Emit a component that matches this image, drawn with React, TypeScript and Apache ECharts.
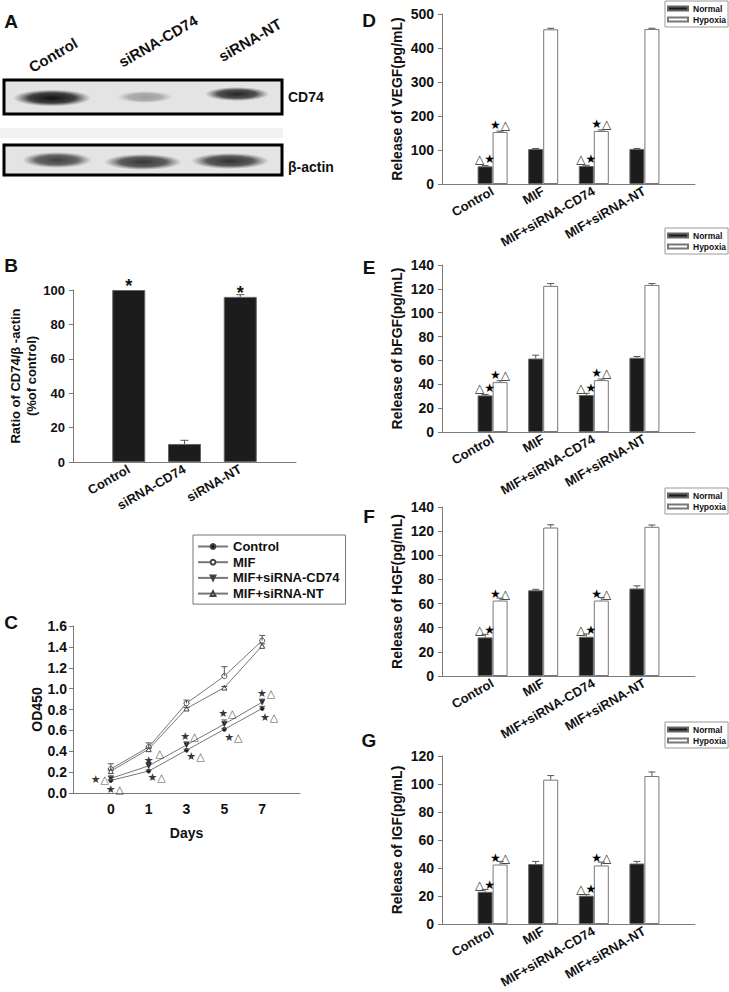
import React, { useEffect, useRef } from 'react';
import * as echarts from 'echarts';

const FONT = '"Liberation Sans", Arial, Helvetica, sans-serif';
const SYM = '"DejaVu Sans", "Liberation Sans", sans-serif';

// ---------- Panel A (western blot) ----------
const blotLanes = ['Control', 'siRNA-CD74', 'siRNA-NT'];
const cd74Density = [0.97, 0.32, 0.88];
const actinDensity = [0.75, 0.8, 0.82];

// ---------- Panel B ----------
const bCategories = ['Control', 'siRNA-CD74', 'siRNA-NT'];
const bValues = [100, 10.5, 96];
const bErrors = [0, 2.1, 1.3];
const bMarks = ['*', '', '*'];

// ---------- Panel C ----------
const cDays = ['0', '1', '3', '5', '7'];
const cNames = ['Control', 'MIF', 'MIF+siRNA-CD74', 'MIF+siRNA-NT'];
const cControl = [0.12, 0.21, 0.41, 0.61, 0.81];
const cControlErr = [0.01, 0.01, 0.01, 0.01, 0.02];
const cMIF = [0.23, 0.44, 0.86, 1.12, 1.46];
const cMIFErr = [0.05, 0.04, 0.03, 0.09, 0.05];
const cCD74 = [0.14, 0.26, 0.46, 0.66, 0.87];
const cCD74Err = [0.02, 0.03, 0.03, 0.04, 0.03];
const cNT = [0.21, 0.42, 0.81, 1.01, 1.41];
const cNTErr = [0.01, 0.01, 0.01, 0.01, 0.02];
// significance marks: [day index, value, text]
const cMarks: [number, number, string][] = [
  [0, 0.134, '★△'], [0, 0.029, '★△'],
  [1, 0.307, '★'], [1, 0.374, '△'], [1, 0.144, '★△'],
  [2, 0.537, '★△'], [2, 0.345, '★△'],
  [3, 0.757, '★△'], [3, 0.527, '★△'],
  [4, 0.949, '★△'], [4, 0.728, '★△'],
];
const cMarkDx = [-11, 4, 0, 11, 8, 3, 9, 3, 9, 4, 7];

// ---------- Panels D-G ----------
const groups = ['Control', 'MIF', 'MIF+siRNA-CD74', 'MIF+siRNA-NT'];
const vegfNormal = [52, 103, 53, 103];
const vegfNormalErr = [2, 1.5, 2, 1.5];
const vegfHypoxia = [153, 455, 156, 456];
const vegfHypoxiaErr = [2.5, 3, 3, 2];
const bfgfNormal = [30.7, 61.6, 31, 62.2];
const bfgfNormalErr = [0.8, 2.8, 1.4, 1.1];
const bfgfHypoxia = [41.8, 122.5, 43.5, 123.3];
const bfgfHypoxiaErr = [1.2, 1.9, 0.9, 1.1];
const hgfNormal = [32, 71, 32.5, 72.5];
const hgfNormalErr = [2.5, 0.8, 2.3, 2.2];
const hgfHypoxia = [62.5, 123, 62.5, 123.6];
const hgfHypoxiaErr = [2, 2.3, 2.5, 1.5];
const igfNormal = [23, 42.8, 20.2, 43.2];
const igfNormalErr = [1.7, 1.9, 0.9, 1.5];
const igfHypoxia = [42.5, 103.1, 41.8, 105.7];
const igfHypoxiaErr = [2.2, 2.9, 2.4, 2.9];
const normalMarks = ['△★', '', '△★', ''];
const hypoxiaMarks = ['★△', '', '★△', ''];

const richMark = (m: string) =>
  m.split('').map((ch) => (ch === '★' ? `{s|★}` : ch === '△' ? `{t|△}` : `{a|${ch}}`)).join('');

const richStyles = (size: number) => ({
  s: { fontFamily: SYM, fontSize: size, fontWeight: 'bold', color: '#000' },
  t: { fontFamily: SYM, fontSize: size, color: '#222' },
  a: { fontFamily: FONT, fontSize: size + 5, fontWeight: 'bold', color: '#111' },
});

const AXIS_COLOR = '#7a7a7a';

function errorSeries(xi: number, vals: number[], errs: number[], dx: number, cap: number) {
  return {
    type: 'custom',
    xAxisIndex: xi,
    yAxisIndex: xi,
    silent: true,
    z: 6,
    data: vals.map((v, i) => [i + 1, v, v + errs[i]]),
    renderItem: (_p: any, api: any) => {
      if (api.value(2) <= api.value(1)) return null;
      const base = api.coord([api.value(0), api.value(1)]);
      const top = api.coord([api.value(0), api.value(2)]);
      const x = base[0] + dx;
      const st = { stroke: '#555', lineWidth: 1 };
      return {
        type: 'group',
        children: [
          { type: 'line', shape: { x1: x, y1: base[1], x2: x, y2: top[1] }, style: st },
          { type: 'line', shape: { x1: x - cap, y1: top[1], x2: x + cap, y2: top[1] }, style: st },
        ],
      };
    },
  };
}

const rightPanels = [
  { title: 'Release of VEGF(pg/mL)', normal: vegfNormal, nErr: vegfNormalErr, hyp: vegfHypoxia, hErr: vegfHypoxiaErr, max: 500, interval: 100, top: 14, height: 170, legendTop: 1, letter: 'D', letterY: 20 },
  { title: 'Release of bFGF(pg/mL)', normal: bfgfNormal, nErr: bfgfNormalErr, hyp: bfgfHypoxia, hErr: bfgfHypoxiaErr, max: 140, interval: 20, top: 265, height: 167, legendTop: 228, letter: 'E', letterY: 267 },
  { title: 'Release of HGF(pg/mL)', normal: hgfNormal, nErr: hgfNormalErr, hyp: hgfHypoxia, hErr: hgfHypoxiaErr, max: 140, interval: 20, top: 507, height: 169, legendTop: 488, letter: 'F', letterY: 516 },
  { title: 'Release of IGF(pg/mL)', normal: igfNormal, nErr: igfNormalErr, hyp: igfHypoxia, hErr: igfHypoxiaErr, max: 120, interval: 20, top: 756, height: 168, legendTop: 722, letter: 'G', letterY: 740 },
];

function yAxisBase(gridIndex: number) {
  return {
    type: 'value',
    gridIndex,
    min: 0,
    axisLine: { show: true, lineStyle: { color: AXIS_COLOR, width: 1 } },
    axisTick: { show: true, length: 4, lineStyle: { color: AXIS_COLOR } },
    splitLine: { show: false },
    axisLabel: { fontFamily: FONT, fontWeight: 'bold', fontSize: 14, color: '#111', margin: 8 },
    nameLocation: 'middle',
    nameRotate: 90,
    nameTextStyle: { fontFamily: FONT, fontWeight: 'bold', fontSize: 14, color: '#111' },
  };
}

function xAxisCat(gridIndex: number, cats: string[], fontSize: number, rotate: number, margin: number) {
  return {
    type: 'category',
    gridIndex,
    data: ['', ...cats, ' '],
    boundaryGap: false,
    axisLine: { show: true, lineStyle: { color: AXIS_COLOR, width: 1 } },
    axisTick: { show: false },
    splitLine: { show: false },
    axisLabel: { interval: 0, rotate, margin, fontFamily: FONT, fontWeight: 'bold', fontSize, color: '#111' },
  };
}

function blotGraphics() {
  const els: any[] = [];
  const band = (cx: number, cy: number, rx: number, ry: number, d: number) => ({
    type: 'ellipse',
    shape: { cx, cy, rx, ry },
    style: {
      fill: {
        type: 'radial', x: 0.5, y: 0.5, r: 0.5,
        colorStops: [
          { offset: 0, color: `rgba(10,10,10,${d})` },
          { offset: 0.6, color: `rgba(30,30,30,${d * 0.85})` },
          { offset: 1, color: 'rgba(70,70,70,0)' },
        ],
      },
    },
  });
  els.push({ type: 'rect', shape: { x: 0, y: 128, width: 283, height: 10 }, style: { fill: '#f2f2f2' } });
  els.push({ type: 'rect', shape: { x: 4, y: 80, width: 278, height: 34 }, style: { fill: '#e4e4e4', stroke: '#000', lineWidth: 3 } });
  els.push({ type: 'rect', shape: { x: 4, y: 145, width: 278, height: 30 }, style: { fill: '#e4e4e4', stroke: '#000', lineWidth: 3 } });
  const topBands = [[52, 98, 39, 8.5], [145, 97, 28, 6], [237, 94, 32, 7]];
  const botBands = [[57, 160, 35, 8], [143, 162, 39, 8], [230, 161, 39, 8]];
  topBands.forEach((b, i) => els.push(band(b[0], b[1], b[2], b[3], cd74Density[i])));
  botBands.forEach((b, i) => els.push(band(b[0], b[1], b[2], b[3], actinDensity[i])));
  const labelPos = [[53, 55], [158, 41], [250, 40]];
  blotLanes.forEach((t, i) => els.push({
    type: 'text', x: labelPos[i][0], y: labelPos[i][1], rotation: Math.PI / 6,
    style: { text: t, fontFamily: FONT, fontWeight: 'bold', fontSize: 15, fill: '#111', align: 'center', verticalAlign: 'middle', textAlign: 'center', textVerticalAlign: 'middle' },
  }));
  els.push({ type: 'text', x: 288, y: 97, style: { text: 'CD74', fontFamily: FONT, fontWeight: 'bold', fontSize: 14, fill: '#111', align: 'left', verticalAlign: 'middle', textAlign: 'left', textVerticalAlign: 'middle' } });
  els.push({ type: 'text', x: 288, y: 167, style: { text: 'β-actin', fontFamily: FONT, fontWeight: 'bold', fontSize: 14, fill: '#111', align: 'left', verticalAlign: 'middle', textAlign: 'left', textVerticalAlign: 'middle' } });
  return els;
}

function letterGraphics() {
  const letters: [string, number, number][] = [
    ['A', 11, 21], ['B', 11, 265], ['C', 11, 622],
    ...rightPanels.map((p) => [p.letter, 369, p.letterY] as [string, number, number]),
  ];
  return letters.map(([t, x, y]) => ({
    type: 'text', x, y,
    style: { text: t, fontFamily: FONT, fontWeight: 'bold', fontSize: 19, fill: '#111', align: 'center', verticalAlign: 'middle', textAlign: 'center', textVerticalAlign: 'middle' },
  }));
}

function buildOption() {
  const grid: any[] = [
    { left: 73, top: 290, width: 223, height: 172 },
    { left: 73, top: 626, width: 227, height: 167 },
    ...rightPanels.map((p) => ({ left: 442, top: p.top, width: 253, height: p.height })),
  ];

  const xAxis: any[] = [
    xAxisCat(0, bCategories, 13, 30, 6),
    {
      ...xAxisCat(1, cDays, 14, 0, 9),
      name: 'Days', nameLocation: 'middle', nameGap: 33,
      nameTextStyle: { fontFamily: FONT, fontWeight: 'bold', fontSize: 14, color: '#111' },
    },
    ...rightPanels.map((_, i) => xAxisCat(i + 2, groups, 13, 30, 6)),
  ];

  const yAxis: any[] = [
    {
      ...yAxisBase(0), max: 100, interval: 20,
      axisLabel: { fontFamily: FONT, fontWeight: 'bold', fontSize: 13, color: '#111', margin: 8 },
      name: 'Ratio of CD74/β -actin\n(%of control)', nameGap: 34,
      nameTextStyle: { fontFamily: FONT, fontWeight: 'bold', fontSize: 13, color: '#111', lineHeight: 16 },
    },
    {
      ...yAxisBase(1), max: 1.6, interval: 0.2,
      axisLabel: { fontFamily: FONT, fontWeight: 'bold', fontSize: 14, color: '#111', margin: 6, formatter: (v: number) => v.toFixed(1) },
      name: 'OD450', nameGap: 29,
    },
    ...rightPanels.map((p, i) => ({
      ...yAxisBase(i + 2), max: p.max, interval: p.interval, name: p.title, nameGap: 38,
    })),
  ];

  const series: any[] = [];

  // Panel B
  series.push({
    type: 'bar', name: 'CD74 ratio', xAxisIndex: 0, yAxisIndex: 0, barWidth: 33,
    itemStyle: { color: '#1c1c1c', borderColor: '#666', borderWidth: 1 },
    data: bValues.map((v, i) => ({
      value: [i + 1, v],
      label: { show: !!bMarks[i], position: 'top', distance: -5, formatter: bMarks[i], fontFamily: FONT, fontWeight: 'bold', fontSize: 18, color: '#111' },
    })),
  });
  series.push(errorSeries(0, bValues, bErrors, 0, 4));

  // Panel C
  const cSets = [
    { name: cNames[0], vals: cControl, errs: cControlErr, symbol: 'circle', size: 4, fill: '#111', rot: 0 },
    { name: cNames[1], vals: cMIF, errs: cMIFErr, symbol: 'circle', size: 5, fill: '#fff', rot: 0 },
    { name: cNames[2], vals: cCD74, errs: cCD74Err, symbol: 'triangle', size: 5, fill: '#111', rot: 180 },
    { name: cNames[3], vals: cNT, errs: cNTErr, symbol: 'triangle', size: 5, fill: '#fff', rot: 0 },
  ];
  cSets.forEach((s) => {
    series.push(errorSeries(1, s.vals, s.errs, 0, 3));
    series.push({
      type: 'line', name: s.name, xAxisIndex: 1, yAxisIndex: 1,
      data: s.vals.map((v, i) => [i + 1, v]),
      symbol: s.symbol, symbolSize: s.size, symbolRotate: s.rot, showAllSymbol: true,
      lineStyle: { color: '#777', width: 1 },
      itemStyle: { color: s.fill, borderColor: '#444', borderWidth: 1 },
      z: 4,
    });
  });
  series.push({
    type: 'scatter', name: 'marksC', xAxisIndex: 1, yAxisIndex: 1, symbolSize: 1,
    itemStyle: { color: 'rgba(0,0,0,0)' }, silent: true, z: 7,
    data: cMarks.map(([d, v, t], i) => ({
      value: [d + 1, v],
      label: { show: true, position: 'inside', offset: [cMarkDx[i], 0], formatter: richMark(t), rich: richStyles(11) },
    })),
  });

  // Panels D-G
  rightPanels.forEach((p, k) => {
    const xi = k + 2;
    series.push({
      type: 'bar', name: 'Normal', xAxisIndex: xi, yAxisIndex: xi, barWidth: 15, barGap: '0%',
      itemStyle: { color: '#1c1c1c', borderColor: '#666', borderWidth: 1 },
      data: p.normal.map((v, i) => ({
        value: [i + 1, v],
        label: { show: !!normalMarks[i], position: 'top', distance: 1, formatter: richMark(normalMarks[i]), rich: richStyles(12) },
      })),
    });
    series.push({
      type: 'bar', name: 'Hypoxia', xAxisIndex: xi, yAxisIndex: xi, barWidth: 15, barGap: '0%',
      itemStyle: { color: '#ffffff', borderColor: '#777', borderWidth: 1 },
      data: p.hyp.map((v, i) => ({
        value: [i + 1, v],
        label: { show: !!hypoxiaMarks[i], position: 'top', distance: 1, formatter: richMark(hypoxiaMarks[i]), rich: richStyles(12) },
      })),
    });
    series.push(errorSeries(xi, p.normal, p.nErr, -7.5, 3.5));
    series.push(errorSeries(xi, p.hyp, p.hErr, 7.5, 3.5));
  });

  const legend: any[] = [
    {
      data: cNames, orient: 'vertical', left: 193, top: 535, selectedMode: false,
      padding: [5, 6, 4, 4], itemWidth: 30, itemHeight: 6, itemGap: 2.7,
      borderColor: '#777', borderWidth: 1,
      textStyle: { fontFamily: FONT, fontWeight: 'bold', fontSize: 13, color: '#111' },
    },
    ...rightPanels.map((p) => ({
      data: ['Normal', 'Hypoxia'], orient: 'vertical', left: 665, top: p.legendTop, selectedMode: false,
      padding: [3, 2, 3, 2], itemWidth: 20, itemHeight: 4, itemGap: 2, icon: 'rect',
      borderColor: '#999', borderWidth: 1,
      textStyle: { fontFamily: FONT, fontWeight: 'bold', fontSize: 8.5, color: '#111' },
    })),
  ];

  return {
    animation: false,
    backgroundColor: '#ffffff',
    textStyle: { fontFamily: FONT },
    grid,
    xAxis,
    yAxis,
    series,
    legend,
    graphic: { elements: [...blotGraphics(), ...letterGraphics()] },
  };
}

export default function App() {
  const ref = useRef<HTMLDivElement>(null);
  useEffect(() => {
    if (!ref.current) return;
    const chart = echarts.init(ref.current, undefined, { renderer: 'svg' });
    chart.setOption(buildOption() as any);
    return () => chart.dispose();
  }, []);
  return (
    <div
      ref={ref}
      style={{ position: 'absolute', left: 0, top: 0, width: 729, height: 992, background: '#fff' }}
    />
  );
}
